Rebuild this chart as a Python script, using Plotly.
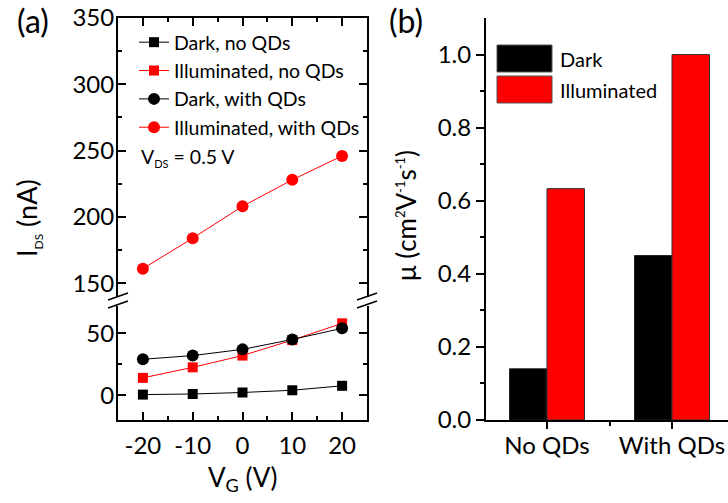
import plotly.graph_objects as go

W, H = 728, 503

# ---------------- data ----------------
vg = [-20, -10, 0, 10, 20]
vg_labels = ["-20", "-10", "0", "10", "20"]
dark_no_qds = [0.5, 1, 2.2, 4, 7.6]
illum_no_qds = [14, 22.5, 32, 44.5, 58]
dark_with_qds = [29, 32, 37, 45, 54]
illum_with_qds = [161, 184, 208, 228, 246]

categories = ["No QDs", "With QDs"]
mu_dark = [0.14, 0.45]
mu_illum = [0.633, 1.0]

FONT = "Lato"

def px_x(p):
    return p / W

def px_y(p):
    return 1 - p / H

fig = go.Figure()

fig.add_trace(go.Scatter(x=vg, y=dark_no_qds, mode="lines+markers", name="Dark, no QDs",
                         line=dict(color="black", width=1), marker=dict(symbol="square", size=10, color="black"),
                         xaxis="x", yaxis="y"))
fig.add_trace(go.Scatter(x=vg, y=illum_no_qds, mode="lines+markers", name="Illuminated, no QDs",
                         line=dict(color="red", width=1), marker=dict(symbol="square", size=10, color="red"),
                         xaxis="x", yaxis="y"))
fig.add_trace(go.Scatter(x=vg, y=dark_with_qds, mode="lines+markers", name="Dark, with QDs",
                         line=dict(color="black", width=1), marker=dict(symbol="circle", size=12, color="black"),
                         xaxis="x", yaxis="y"))
fig.add_trace(go.Scatter(x=vg, y=illum_with_qds, mode="lines+markers", name="Illuminated, with QDs",
                         line=dict(color="red", width=1), marker=dict(symbol="circle", size=12, color="red"),
                         xaxis="x2", yaxis="y2"))

xpos = list(range(len(categories)))
fig.add_trace(go.Bar(x=xpos, y=mu_dark, name="Dark", marker=dict(color="black", line=dict(color="#222", width=1)),
                     xaxis="x3", yaxis="y3", showlegend=False))
fig.add_trace(go.Bar(x=xpos, y=mu_illum, name="Illuminated", marker=dict(color="red", line=dict(color="#333", width=1)),
                     xaxis="x3", yaxis="y3", showlegend=False))

xa_l, xa_r = 118, 367
lower_top, lower_bot = 306, 420
upper_top, upper_bot = 18, 296.5

# panel (b) x axis: category centres at 547 and 672 px
b_left = 486
b_right = W
b_px_per_cat = 125.0
b_range = [(b_left - 547) / b_px_per_cat, (b_right - 547) / b_px_per_cat]

common_ax = dict(showline=True, linecolor="black", linewidth=2, showgrid=False, zeroline=False,
                 automargin=False, tickcolor="black", tickwidth=1.5, ticklabeloverflow="allow",
                 tickfont=dict(family=FONT, size=24, color="black"))
minor_in = dict(ticks="inside", ticklen=4, tickcolor="black", tickwidth=1.5)
minor_out = dict(ticks="outside", ticklen=4, tickcolor="black", tickwidth=1.5)

fig.update_layout(
    template="none",
    width=W, height=H, margin=dict(l=0, r=0, t=0, b=0, autoexpand=False), autosize=False,
    paper_bgcolor="white", plot_bgcolor="white",
    font=dict(family=FONT, color="black"),
    barmode="group", bargap=0.4, bargroupgap=0,
    xaxis=dict(**common_ax, domain=[px_x(xa_l), px_x(xa_r)], anchor="y", range=[-25, 25],
               tickvals=vg, ticktext=vg_labels, ticks="inside", ticklen=8, ticklabelstandoff=3,
               minor=dict(tickvals=[-25, -15, -5, 5, 15, 25], **minor_in)),
    xaxis2=dict(**common_ax, domain=[px_x(xa_l), px_x(xa_r)], anchor="y2", side="top", matches="x",
                range=[-25, 25], tickvals=vg, ticks="inside", ticklen=8, showticklabels=False,
                minor=dict(tickvals=[-25, -15, -5, 5, 15, 25], **minor_in)),
    yaxis=dict(**common_ax, domain=[px_y(lower_bot), px_y(lower_top)], anchor="x", range=[-20, 72],
               tickvals=[0, 50], ticks="inside", ticklen=8, mirror="ticks", ticklabelstandoff=-3,
               minor=dict(tickvals=[25], **minor_in)),
    yaxis2=dict(**common_ax, domain=[px_y(upper_bot), px_y(upper_top)], anchor="x2", range=[140, 350],
                tickvals=[150, 200, 250, 300, 350], ticks="inside", ticklen=8, mirror="ticks", ticklabelstandoff=-3,
                minor=dict(tickvals=[175, 225, 275, 325], **minor_in)),
    xaxis3=dict(**common_ax, domain=[px_x(b_left), 1.0], anchor="y3", range=b_range,
                tickvals=xpos, ticktext=categories, ticks="outside", ticklen=7, ticklabelstandoff=-4,
                minor=dict(tickvals=[0.5], **minor_out)),
    yaxis3=dict(**common_ax, domain=[px_y(420), px_y(18)], anchor="x3", range=[0, 1.1],
                tickvals=[0, 0.2, 0.4, 0.6, 0.8, 1.0], tickformat=".1f", ticks="outside", ticklen=8,
                minor=dict(tickvals=[0.1, 0.3, 0.5, 0.7, 0.9], **minor_out)),
    legend=dict(x=px_x(134), y=px_y(23), xanchor="left", yanchor="top", bgcolor="rgba(0,0,0,0)",
                font=dict(family=FONT, size=19.5, color="black"), itemwidth=30, borderwidth=0),
    showlegend=True,
)

for xc in (xa_l, xa_r):
    for dy in (0, 8):
        fig.add_shape(type="line", xref="paper", yref="paper",
                      x0=px_x(xc - 10), y0=px_y(300 + dy), x1=px_x(xc + 10), y1=px_y(293 + dy),
                      line=dict(color="black", width=1.5))

for i, (nm, col) in enumerate([("Dark", "black"), ("Illuminated", "red")]):
    t = 45 + i * 31
    fig.add_shape(type="rect", xref="paper", yref="paper", x0=px_x(497), x1=px_x(552),
                  y0=px_y(t + 27), y1=px_y(t), fillcolor=col, line=dict(color="#555", width=1))
    fig.add_annotation(x=px_x(558), y=px_y(t + 14), xref="paper", yref="paper", text=nm, showarrow=False,
                       xanchor="left", yanchor="middle", font=dict(family=FONT, size=20, color="black"))

ann = dict(xref="paper", yref="paper", showarrow=False, font=dict(family=FONT, color="black"))
fig.add_annotation(**ann, x=px_x(33), y=px_y(21), text="(a)", xanchor="center", yanchor="middle",
                   font_size=32)
fig.add_annotation(**ann, x=px_x(406), y=px_y(21), text="(b)", xanchor="center", yanchor="middle",
                   font_size=32)
fig.add_annotation(**ann, x=px_x(28), y=px_y(218),
                   text="I<sub><span style='font-size:12px'>DS</span></sub> (nA)", textangle=-90,
                   xanchor="center", yanchor="middle", font_size=27)
fig.add_annotation(**ann, x=px_x(242), y=px_y(478), text="V<sub>G</sub> (V)",
                   xanchor="center", yanchor="middle", font_size=26)
fig.add_annotation(**ann, x=px_x(406), y=px_y(216),
                   text="\u03bc (cm<sup><span style='font-size:13px'>2</span></sup>V<sup><span style='font-size:13px'>-1</span></sup>s<sup><span style='font-size:13px'>-1</span></sup>)",
                   textangle=-90, xanchor="center", yanchor="middle", font_size=26)
fig.add_annotation(**ann, x=px_x(139), y=px_y(157),
                   text="V<sub><span style='font-size:11px'>DS</span></sub> = 0.5 V",
                   xanchor="left", yanchor="middle", font_size=19.5)

fig.write_html("out.html", config={"displayModeBar": False},
               post_script="document.body.style.margin='0px';")
